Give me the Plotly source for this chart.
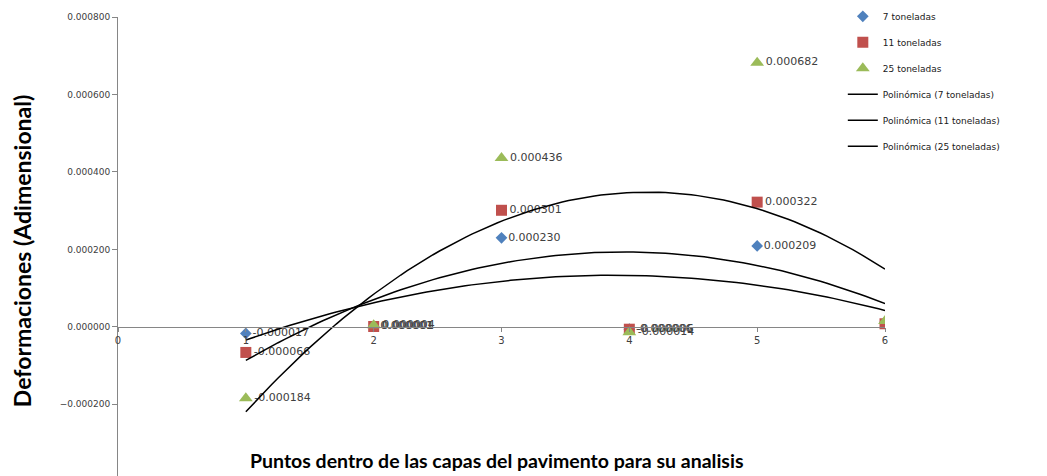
import numpy as np
import plotly.graph_objects as go

# puntos de analisis
puntos = [1, 2, 3, 4, 5, 6]
t7 = [-0.000017, 0.000001, 0.000230, -0.000006, 0.000209, 0.000012]
t11 = [-0.000066, 0.000001, 0.000301, -0.000006, 0.000322, 0.000008]
t25 = [-0.000184, 0.000004, 0.000436, -0.000014, 0.000682, 0.000015]

series = [
    ("7 toneladas", t7, "#4F81BD", "diamond", 9),
    ("11 toneladas", t11, "#C0504D", "square", 11),
    ("25 toneladas", t25, "#9BBB59", "triangle-up", 12),
]

Y_MIN, Y_MAX = -0.000385, 0.0008

fig = go.Figure()

for i, (name, vals, color, symbol, size) in enumerate(series):
    labels = [f"{v:.6f}" for v in vals[:-1]] + [""]
    fig.add_trace(go.Scatter(
        x=puntos, y=vals, name=name, mode="markers+text",
        legendgroup=f"s{i}",
        marker=dict(color=color, symbol=symbol, size=size),
        text=labels, textposition="middle right",
        textfont=dict(size=11, color="#404040", family="DejaVu Sans"),
    ))

# lineas de tendencia polinomicas (grado 2)
xs = np.linspace(1, 6, 100)
for i, (name, vals, color, symbol, size) in enumerate(series):
    coef = np.polyfit(puntos, vals, 2)
    fig.add_trace(go.Scatter(
        x=xs, y=np.polyval(coef, xs), mode="lines",
        name=f"Polinómica ({name})", legendgroup=f"p{i}",
        line=dict(color="black", width=1.5),
    ))

# la pagina tiene 8px de margen en body
fig.update_layout(
    width=1039, height=468,
    margin=dict(l=110, r=162, t=9, b=0, autoexpand=False),
    plot_bgcolor="white", paper_bgcolor="white",
    font=dict(family="DejaVu Sans", color="#404040"),
    showlegend=True,
    legend=dict(
        x=0.945, y=1.033, xanchor="left", yanchor="top",
        font=dict(size=9, color="#202020"),
        tracegroupgap=7,
        bgcolor="rgba(0,0,0,0)",
    ),
    xaxis=dict(
        range=[0, 6], tickvals=[0, 1, 2, 3, 4, 5, 6],
        anchor="free", position=(0 - Y_MIN) / (Y_MAX - Y_MIN),
        showline=True, linecolor="#868686", linewidth=1,
        ticks="outside", ticklen=4, tickcolor="#868686",
        showgrid=False, zeroline=False,
        tickfont=dict(size=10, color="#404040"),
    ),
    yaxis=dict(
        range=[Y_MIN, Y_MAX], tickvals=[-0.0002, 0, 0.0002, 0.0004, 0.0006, 0.0008],
        tickformat=".6f",
        showline=True, linecolor="#868686", linewidth=1,
        ticks="outside", ticklen=5, tickcolor="#868686",
        showgrid=False, zeroline=False,
        tickfont=dict(size=9, color="#404040"),
    ),
    annotations=[
        dict(text="<b>Deformaciones (Adimensional)</b>", textangle=-90,
             xref="paper", yref="paper", x=-0.125, y=0.49,
             xanchor="center", yanchor="middle", showarrow=False,
             font=dict(size=23, color="black", family="Lato")),
        dict(text="<b>Puntos dentro de las capas del pavimento para su analisis</b>",
             xref="paper", yref="paper", x=0.494, y=0.033,
             xanchor="center", yanchor="middle", showarrow=False,
             font=dict(size=19.5, color="black", family="Lato")),
    ],
)

fig.write_html("out.html")
